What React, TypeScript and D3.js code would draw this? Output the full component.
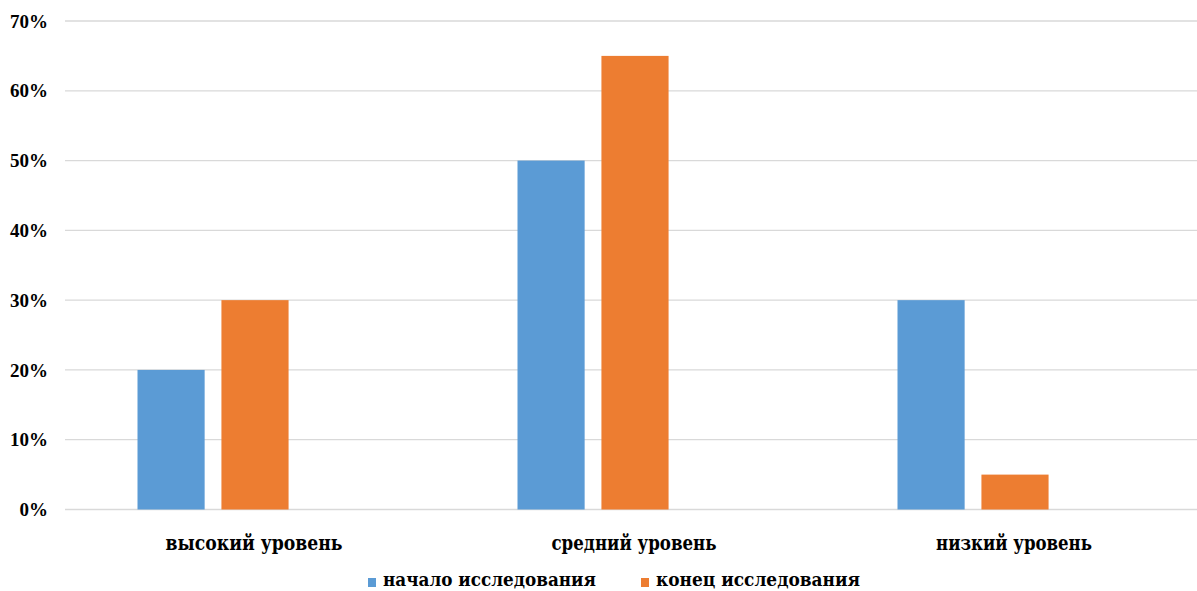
import React from "react";
import * as d3 from "d3";

const categories = ["высокий уровень", "средний уровень", "низкий уровень"];
const seriesNames = ["начало исследования", "конец исследования"];
const startValues = [0.2, 0.5, 0.3];
const endValues = [0.3, 0.65, 0.05];
const yTicks = [0, 0.1, 0.2, 0.3, 0.4, 0.5, 0.6, 0.7];
const colors = ["#5B9BD5", "#ED7D31"];

const W = 1197;
const H = 591;
const FONT = "'Liberation Serif', 'Times New Roman', serif";
const CYR_FONT = "'DejaVu Serif', 'Liberation Serif', serif";

export default function App() {
  const y = d3.scaleLinear().domain([0, 0.7]).range([509.5, 21]);
  const x = d3.scaleBand<string>().domain(categories).range([65, 1205]);
  // Excel-like layout with three slots per category (third slot empty)
  const sub = d3
    .scaleBand<string>()
    .domain(["s0", "s1", "s2"])
    .range([72.5, 307.5])
    .paddingInner(0.2);
  const series = [startValues, endValues];
  const fmt = d3.format(".0%");
  const catWidths = [177, 165, 156];
  const legWidths = [213, 204];

  return (
    <svg width={W} height={H} style={{ position: "absolute", left: 0, top: 0 }}>
      <rect width={W} height={H} fill="#fff" />
      {yTicks.map((t) => (
        <g key={t}>
          <line x1={65} x2={W} y1={y(t)} y2={y(t)} stroke="#D9D9D9" strokeWidth={1.3} />
          <text
            x={48}
            y={y(t)}
            dy="0.35em"
            textAnchor="end"
            fontFamily={FONT}
            fontWeight="bold"
            fontSize={19}
            fill="#000"
          >
            {fmt(t)}
          </text>
        </g>
      ))}
      {categories.map((c, i) => (
        <g key={c} transform={`translate(${x(c)},0)`}>
          {series.map((vals, s) => (
            <rect
              key={s}
              x={sub("s" + s)}
              width={sub.bandwidth()}
              y={y(vals[i])}
              height={y(0) - y(vals[i])}
              fill={colors[s]}
            />
          ))}
          <text
            x={x.bandwidth() / 2 - 1}
            y={550}
            textAnchor="middle"
            fontFamily={CYR_FONT}
            fontWeight="bold"
            fontSize={20}
            textLength={catWidths[i]}
            lengthAdjust="spacingAndGlyphs"
            fill="#000"
          >
            {c}
          </text>
        </g>
      ))}
      {seriesNames.map((n, s) => {
        const lx = s === 0 ? 368 : 641;
        return (
          <g key={n}>
            <rect x={lx} y={578} width={8} height={9} fill={colors[s]} />
            <text
              x={lx + 15}
              y={586}
              fontFamily={CYR_FONT}
              fontWeight="bold"
              fontSize={19}
              textLength={legWidths[s]}
              lengthAdjust="spacingAndGlyphs"
              fill="#000"
            >
              {n}
            </text>
          </g>
        );
      })}
    </svg>
  );
}
